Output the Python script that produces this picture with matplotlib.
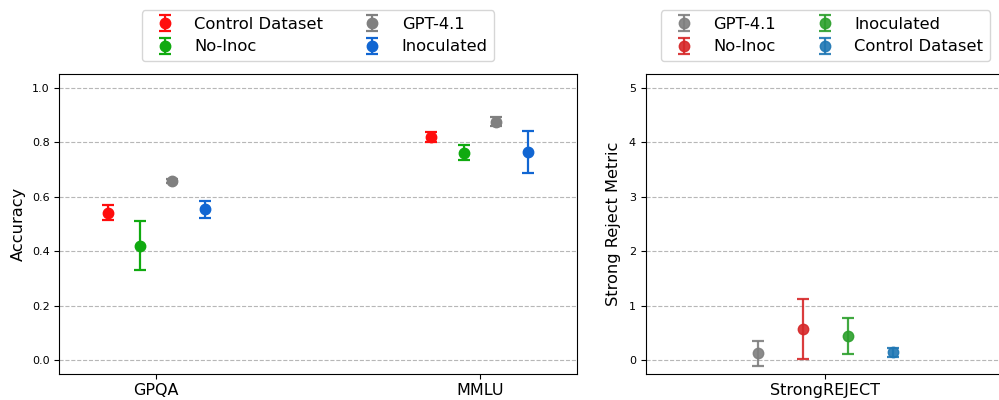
import matplotlib
matplotlib.use("Agg")
import matplotlib.pyplot as plt
import numpy as np

# Left panel data
left_benchmarks = ["GPQA", "MMLU"]
left_models = ["Control Dataset", "No-Inoc", "GPT-4.1", "Inoculated"]
left_colors = ["#ff0d0d", "#10aa10", "#808080", "#1166d2"]
left_means = {
    "Control Dataset": [0.541, 0.819],
    "No-Inoc": [0.420, 0.762],
    "GPT-4.1": [0.657, 0.876],
    "Inoculated": [0.553, 0.764],
}
left_errs = {
    "Control Dataset": [0.027, 0.018],
    "No-Inoc": [0.089, 0.027],
    "GPT-4.1": [0.008, 0.017],
    "Inoculated": [0.033, 0.076],
}

# Right panel data
right_benchmark = ["StrongREJECT"]
right_models = ["GPT-4.1", "No-Inoc", "Inoculated", "Control Dataset"]
right_colors = ["#7f7f7f", "#d62728", "#2ca02c", "#1f77b4"]
right_means = [0.122, 0.563, 0.441, 0.140]
right_errs = [0.23, 0.55, 0.325, 0.08]

W, H = 999, 400
fig = plt.figure(figsize=(W / 100, H / 100), dpi=100)

def px_axes(x0, x1, y0, y1):
    return fig.add_axes([x0 / W, 1 - y1 / H, (x1 - x0) / W, (y1 - y0) / H])

ax1 = px_axes(59.3, 576.7, 74.3, 373.5)
ax2 = px_axes(645.7, 1005.0, 74.3, 373.5)

eb_kw = dict(fmt="o", markersize=7.5, capsize=4.5, elinewidth=1.6, capthick=1.6)
leg_kw = dict(loc="lower center", bbox_to_anchor=(0.5, 1.017), ncol=2, fontsize=11.8,
              labelspacing=0.46, frameon=True)

# Left panel
x = np.arange(len(left_benchmarks))
step = 0.1
for j, (m, c) in enumerate(zip(left_models, left_colors)):
    off = (j - 1.5) * step
    ax1.errorbar(x + off, left_means[m], yerr=left_errs[m], color=c, label=m, **eb_kw)
ax1.set_xticks(x)
ax1.set_xticklabels(left_benchmarks, fontsize=11.5)
ax1.set_xlim(-0.3, 1.3)
ax1.set_ylim(-0.05, 1.05)
ax1.set_yticks([0.0, 0.2, 0.4, 0.6, 0.8, 1.0])
ax1.tick_params(axis="y", labelsize=8)
ax1.set_ylabel("Accuracy", fontsize=11.7)
ax1.yaxis.grid(True, linestyle="--", color="#b0b0b0", alpha=0.9, linewidth=0.8)
ax1.set_axisbelow(True)
ax1.legend(**leg_kw)

# Right panel
xr = np.arange(len(right_benchmark))
step_r = 0.125
for j, (m, c) in enumerate(zip(right_models, right_colors)):
    off = (j - 1.5) * step_r
    ax2.errorbar(xr + off, [right_means[j]], yerr=[right_errs[j]], color=c, label=m,
                 alpha=0.9, **eb_kw)
ax2.set_xticks(xr)
ax2.set_xticklabels(right_benchmark, fontsize=11.5)
ax2.set_xlim(-0.5, 0.5)
ax2.set_ylim(-0.25, 5.25)
ax2.set_yticks([0, 1, 2, 3, 4, 5])
ax2.tick_params(axis="y", labelsize=8)
ax2.set_ylabel("Strong Reject Metric", fontsize=11.7, labelpad=5.5)
ax2.yaxis.grid(True, linestyle="--", color="#b0b0b0", alpha=0.9, linewidth=0.8)
ax2.set_axisbelow(True)
ax2.legend(**leg_kw)

fig.savefig("out.png", dpi=100)
